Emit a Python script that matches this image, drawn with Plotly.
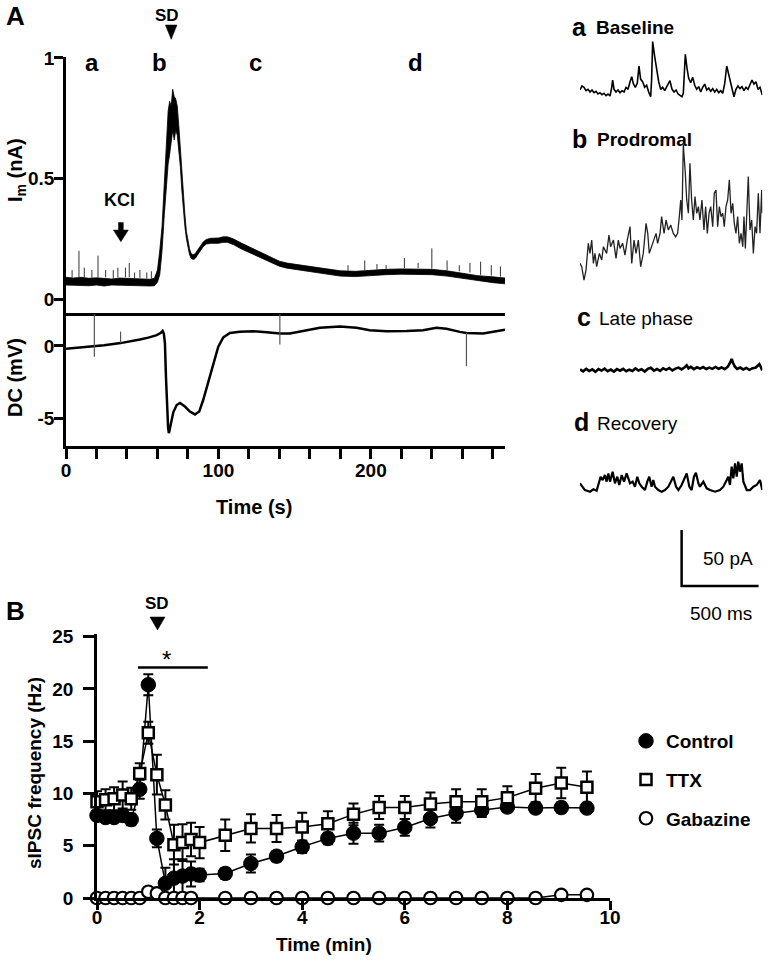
import plotly.graph_objects as go

W, H = 768, 961
FONT = "Liberation Sans, Arial, sans-serif"


def px(x):
    return x / W


def py(y):
    return 1 - y / H


# ---------------- Panel A: membrane current (nA), noisy-trace envelope ----------------
im_t = [0, 5, 10, 15, 20, 25, 30, 35, 40, 45, 50, 55, 58,
        60, 61.5, 63, 64.5, 66, 67, 68, 69, 70, 71, 72, 73, 74, 75, 76, 77, 78, 79, 80, 81, 82, 83, 84, 85, 86,
        88, 90, 92, 95, 100, 103, 106, 110, 115, 120, 125, 130, 135, 140, 145, 150,
        160, 170, 180, 190, 200, 210, 220, 230, 240, 250, 260, 270, 280, 288]
im_lo = [.058, .057, .058, .055, .058, .054, .058, .057, .055, .054, .054, .054, .055,
         .07, .1, .2, .35, .5, .56, .6, .65, .7, .66, .7, .68, .62, .55, .45, .37, .3, .25, .21, .185, .17, .165, .165, .17, .18,
         .197, .217, .228, .231, .231, .235, .235, .225, .208, .193, .178, .163, .148, .136, .128, .123,
         .113, .103, .095, .093, .098, .101, .103, .103, .101, .095, .085, .075, .068, .063]
im_hi = [.09, .087, .09, .086, .088, .086, .083, .087, .086, .082, .084, .082, .086,
         .12, .2, .3, .48, .66, .78, .82, .80, .87, .84, .83, .8, .72, .62, .52, .42, .35, .28, .24, .21, .19, .185, .185, .19, .2,
         .218, .237, .247, .252, .253, .258, .258, .249, .232, .217, .2, .185, .169, .157, .149, .144,
         .135, .125, .117, .115, .12, .123, .125, .125, .123, .117, .107, .097, .092, .087]
im_spk_t = [4, 8.5, 12, 17, 21, 26, 31, 34, 39, 41.5, 45, 48.5, 53, 56,
            185, 196, 204, 210, 222, 231, 240, 250, 258, 265, 272, 279, 285]
im_spk_base = [0.088, 0.09, 0.09, 0.088, 0.09, 0.09, 0.085, 0.09, 0.09, 0.09, 0.085, 0.088, 0.085, 0.085,
               0.117, 0.12, 0.122, 0.125, 0.128, 0.128, 0.126, 0.12, 0.115, 0.11, 0.1, 0.097, 0.093]
im_spk_peak = [0.12, 0.2, 0.13, 0.12, 0.18, 0.12, 0.12, 0.13, 0.13, 0.15, 0.11, 0.12, 0.11, 0.115,
               0.14, 0.16, 0.145, 0.14, 0.17, 0.15, 0.21, 0.16, 0.14, 0.15, 0.155, 0.14, 0.135]
im_ticks = [0, 0.5, 1]
im_ticktext = ["0", "0.5", "1"]

# ---------------- Panel A: DC potential (mV) ----------------
dc_t = [0, 10, 18.6, 25, 35.8, 42, 48.5, 54, 59.5, 62,
        63.4, 64.2, 64.9, 65.6, 66.3, 67.0, 67.5, 68.6, 70.4, 72.6, 74.8,
        78, 81.3, 84.6, 87.4, 90, 93.3, 96.6, 99.9, 103.2, 107.5,
        114, 122.8, 131.6, 140.3, 146.9, 155.6, 166.6, 179.7, 190.6, 199.3,
        210.3, 223.4, 234.3, 243, 249.6, 258.4, 262.7, 273.6, 288]
dc_v = [-0.2, -0.12, -0.05, 0.05, 0.2, 0.3, 0.45, 0.58, 0.75, 0.9,
        1.05, 0.85, 0.2, -2.2, -4.4, -5.7, -6.05, -5.4, -4.6, -4.1, -3.95,
        -4.2, -4.55, -4.75, -4.55, -3.75, -2.45, -1.2, -0.05, 0.6, 0.9,
        0.98, 1.02, 0.95, 0.86, 0.86, 1.02, 1.27, 1.36, 1.27, 1.09,
        1.02, 1.04, 1.09, 1.27, 1.2, 0.98, 0.9, 0.86, 1.13]
dc_art_t = [18.6, 35.8, 140.3, 262.7]
dc_art_hi = [2.22, 1.0, 2.22, 0.9]
dc_art_lo = [-0.75, 0.2, 0.1, -1.4]
dc_ticks = [-5, 0]
dc_ticktext = ["-5", "0"]
time_ticks = [0, 100, 200]
time_minor_step = 20

# ---------------- Panel A insets: sIPSC traces (ms, pA) ----------------
a_ms = [0, 13, 26, 39, 52, 65, 78, 91, 104, 117, 130, 143, 156, 169, 182, 195, 206, 212, 221, 234,
        247, 260, 273, 286, 299, 312, 325, 336, 346, 359, 372, 383, 394, 407, 420, 433, 446, 459, 465, 472,
        485, 498, 511, 524, 537, 550, 563, 576, 584, 598, 611, 624, 637, 650, 662, 671, 684, 695, 706, 719,
        732, 745, 758, 771, 784, 797, 810, 823, 836, 849, 862, 875, 888, 901, 914, 927, 940, 953, 966, 979,
        992, 1000, 1013, 1026, 1039, 1052, 1065, 1078, 1091, 1104, 1117, 1130, 1143, 1156, 1169, 1184]
a_pA = [3.0, 6.6, 5.4, 2.4, 3.6, 1.2, 3.0, 0.6, 1.8, -0.6, 0.6, -1.2, 0, -2.1, -0.6, -2.4, 5.4, 11.9, 3.6, 1.2,
        3.0, 0.6, 2.4, 1.2, 5.4, 3.6, 10.4, 14.9, 8.9, 5.4, 8.9, 24.4, 12.5, 10.4, 5.4, 7.2, 1.2, -3.0, 11.9, 46.2,
        32.8, 19.4, 10.4, 3.6, 5.4, 2.4, 6.0, 8.9, 11.3, 3.6, 1.2, 3.0, -0.6, -1.8, -3.0, 0, 34.9, 22.4, 13.4, 9.5,
        14.3, 7.2, 3.6, 6.0, 1.2, 5.4, 8.3, 3.0, 4.8, 1.8, 4.2, 1.2, 3.6, 0.6, 2.4, 0, 8.9, 24.4, 17.3, 8.9,
        1.5, -3.0, 3.6, 6.6, 4.2, 6.0, 2.4, 5.4, 3.6, 7.4, 11.9, 8.3, 10.4, 3.6, 5.4, -1.5]
b_ms = [0, 11, 26, 39, 54, 65, 76, 87, 97, 108, 126, 141, 152, 173, 188, 199, 217, 234, 249, 260,
        277, 292, 307, 325, 336, 351, 364, 379, 394, 411, 429, 440, 450, 465, 481, 494, 504, 520, 530, 546,
        559, 574, 589, 606, 621, 634, 645, 654, 662, 671, 684, 693, 704, 714, 725, 736, 747, 758, 769, 779,
        792, 805, 816, 827, 838, 849, 862, 872, 883, 894, 905, 916, 927, 937, 948, 959, 970, 981, 992, 1002,
        1013, 1024, 1035, 1046, 1057, 1065, 1074, 1083, 1093, 1104, 1115, 1126, 1137, 1147, 1158, 1169, 1180, 1184]
b_pA = [3.0, 0, -11.9, -3.0, 20.9, 11.9, 23.8, 3.0, 11.9, 0, 11.9, 6.0, 17.9, 11.9, 28.3, 17.9, 23.8, 7.5, 23.8, 16.4,
        20.9, 10.4, 23.8, 35.8, 3.0, 23.8, 11.9, 23.8, 0, 11.9, 38.7, 29.8, 11.9, 17.9, 23.8, 29.8, 20.9, 29.8, 44.7, 29.8,
        41.7, 32.8, 37.3, 29.8, 26.8, 29.8, 44.7, 59.6, 41.7, 108.8, 83.4, 59.6, 47.7, 92.4, 59.6, 41.7, 62.6, 47.7, 53.6, 41.7,
        59.6, 32.8, 53.6, 29.8, 47.7, 53.6, 35.8, 65.6, 68.5, 35.8, 53.6, 44.7, 47.7, 35.8, 53.6, 59.6, 77.5, 47.7, 56.6, 38.7,
        29.8, 44.7, 20.9, 29.8, 17.9, 44.7, 16.4, 50.7, 80.5, 32.8, 41.7, 11.9, 35.8, 29.8, 65.6, 29.8, 68.5, 47.7]
c_ms = [0, 20, 40, 60, 80, 100, 120, 140, 160, 180, 200, 220, 240, 260, 280, 300, 320, 340, 360, 380,
        400, 420, 440, 460, 480, 500, 520, 540, 560, 580, 600, 620, 640, 660, 680, 693, 705, 720,
        740, 760, 780, 800, 820, 840, 860, 880, 900, 920, 940, 960, 975, 985, 995, 1005,
        1020, 1040, 1060, 1080, 1100, 1120, 1140, 1155, 1165, 1175, 1184]
c_pA = [0.5, -1.2, 1.0, -0.8, 0.6, -1.5, 0.9, -0.5, 1.2, -1.0, 0.4, -1.4, 0.8, -0.6, 1.1, -1.1, 0.3, -0.9, 1.4, -0.4,
        0.7, -1.3, 1.0, 2.0, -0.5, 0.9, -0.8, 1.6, 0.2, 1.8, -0.4, 1.3, 2.2, 0.6, 2.5, 4.2, 1.5, 2.8,
        0.8, 2.4, 1.2, 2.6, 0.9, 2.2, 1.0, 2.7, 1.1, 2.3, 0.8, 3.0, 6.5, 9.8, 6.0, 3.2,
        1.0, 2.2, 0.5, 1.8, 0.2, 1.5, 2.0, 3.5, 5.2, 2.5, -0.5]
d_ms = [0, 32, 65, 87, 108, 126, 134, 147, 162, 173, 184, 195, 212, 227, 242, 255, 271, 286, 303, 314,
        325, 342, 357, 372, 385, 401, 422, 437, 450, 465, 476, 487, 509, 530, 552, 574, 595, 606, 624, 639,
        660, 682, 693, 710, 725, 740, 753, 769, 779, 801, 823, 844, 877, 909, 931, 953, 963, 974, 985, 996,
        1007, 1018, 1028, 1039, 1050, 1061, 1083, 1104, 1126, 1147, 1169, 1184]
d_pA = [6.0, 0, -1.5, 0.6, -0.6, 7.5, 11.9, 8.9, 13.4, 7.5, 14.9, 7.5, 16.4, 6.0, 11.9, 4.5, 13.4, 7.5, 14.9, 10.4,
        6.0, 7.5, 3.0, 11.9, 6.0, 3.0, 0, 7.5, 11.9, 3.0, 8.9, 3.0, 0, -1.5, 0, 3.0, 8.9, 11.9, 3.0, 0,
        4.5, 11.9, 14.9, 3.0, 0, 11.9, 15.5, 6.0, 3.0, 7.5, 1.5, 0, -1.5, 0, 3.0, 8.9, 11.9, 4.5, 20.9, 10.4,
        23.8, 11.9, 25.3, 16.4, 23.8, 7.5, 0, 0, 3.0, 4.5, 8.9, 0]
scale_pA = 50
scale_ms = 500

# ---------------- Panel B: sIPSC frequency (Hz) vs time (min) ----------------
b_time = [0, 0.167, 0.333, 0.5, 0.667, 0.833, 1.0, 1.167, 1.333, 1.5, 1.667, 1.833, 2.0,
          2.5, 3.0, 3.5, 4.0, 4.5, 5.0, 5.5, 6.0, 6.5, 7.0, 7.5, 8.0, 8.55, 9.05, 9.55]
control = [7.9, 7.7, 7.7, 7.9, 7.5, 10.4, 20.4, 5.7, 1.4, 1.9, 2.1, 2.3, 2.2,
           2.35, 3.3, 4.0, 4.9, 5.7, 6.2, 6.2, 6.75, 7.6, 8.1, 8.4, 8.7, 8.6, 8.65, 8.6]
control_err = [0.3, 0.3, 0.4, 0.3, 0.55, 0.9, 1.0, 0.85, 1.5, 1.8, 1.6, 1.2, 0.6,
               0.5, 0.85, 0.5, 0.6, 0.55, 1.0, 0.8, 0.8, 0.85, 0.9, 0.65, 0.4, 0.4, 0.5, 0.4]
ttx = [9.2, 9.4, 9.5, 9.85, 9.5, 11.9, 15.8, 11.8, 8.9, 5.1, 5.3, 5.6, 5.3,
       6.0, 6.65, 6.65, 6.8, 7.1, 8.0, 8.65, 8.65, 9.0, 9.2, 9.2, 9.6, 10.5, 11.0, 10.6]
ttx_err = [1.0, 1.0, 1.1, 1.3, 1.05, 1.0, 1.05, 1.9, 1.4, 1.9, 1.75, 1.6, 1.5,
           1.5, 1.35, 1.3, 1.35, 1.2, 1.05, 1.1, 1.1, 1.1, 1.2, 1.2, 1.1, 1.35, 1.45, 1.5]
gabazine = [0, 0, 0, 0, 0, 0, 0.6, 0.45, 0, 0, 0, 0, -0.05,
            0, 0, 0, 0, 0, 0, 0, 0, 0, 0, 0, 0, 0, 0.3, 0.3]
freq_ticks = [0, 5, 10, 15, 20, 25]
min_ticks = [0, 2, 4, 6, 8, 10]
sig_start, sig_end, sig_level = 0.8, 2.16, 22.05

# ======================================================================
fig = go.Figure()


def seg(ts, lo, hi):
    xs, ys = [], []
    for t, u, v in zip(ts, lo, hi):
        xs += [t, t, None]
        ys += [u, v, None]
    return xs, ys


def line_trace(x, y, xa, ya, width, color="black"):
    return go.Scatter(x=x, y=y, mode="lines", xaxis=xa, yaxis=ya,
                      line=dict(color=color, width=width), showlegend=False,
                      hoverinfo="skip", connectgaps=False)


# Im band
fig.add_trace(line_trace(im_t, im_lo, "x", "y", 0.8))
fig.add_trace(go.Scatter(x=im_t, y=im_hi, mode="lines", xaxis="x", yaxis="y",
                         line=dict(color="black", width=0.8), fill="tonexty",
                         fillcolor="black", showlegend=False, hoverinfo="skip"))
sx, sy = seg(im_spk_t, im_spk_base, im_spk_peak)
fig.add_trace(line_trace(sx, sy, "x", "y", 1, "#333"))

# DC trace
fig.add_trace(line_trace(dc_t, dc_v, "x2", "y2", 2.5))
ax_, ay_ = seg(dc_art_t, dc_art_lo, dc_art_hi)
fig.add_trace(line_trace(ax_, ay_, "x2", "y2", 1.2, "#555"))

# insets
fig.add_trace(line_trace(a_ms, a_pA, "x3", "y3", 1.6))
fig.add_trace(line_trace(b_ms, b_pA, "x4", "y4", 1.3, "#222"))
fig.add_trace(line_trace(c_ms, c_pA, "x5", "y5", 2.6))
fig.add_trace(line_trace(d_ms, d_pA, "x6", "y6", 2.2))
# scale bar (in inset d units)
sb_x0, sb_y0 = 660, -85.7
fig.add_trace(line_trace([sb_x0, sb_x0, sb_x0 + scale_ms],
                         [sb_y0 + scale_pA, sb_y0, sb_y0], "x6", "y6", 2.5))

# Panel B lines + error bars
series = [
    ("Control", control, control_err, dict(symbol="circle", size=14.5, color="black",
                                           line=dict(color="black", width=1))),
    ("TTX", ttx, ttx_err, dict(symbol="square", size=11, color="white",
                                line=dict(color="black", width=2.5))),
    ("Gabazine", gabazine, None, dict(symbol="circle", size=12.5, color="white",
                                      line=dict(color="black", width=2.2))),
]
for name, vals, err, mk in series:
    fig.add_trace(go.Scatter(
        x=b_time, y=vals, mode="lines", xaxis="x7", yaxis="y7",
        line=dict(color="black", width=1.5), showlegend=False, hoverinfo="skip",
        error_y=(dict(type="data", array=err, visible=True, color="black",
                      thickness=2, width=5) if err else None),
    ))
for name, vals, err, mk in series:
    fig.add_trace(go.Scatter(
        x=b_time, y=vals, mode="markers", xaxis="x7", yaxis="y7", name=name,
        marker=mk, cliponaxis=False, legendgroup=name,
    ))

# ---------------- layout ----------------
common = dict(showgrid=False, zeroline=False, linecolor="black", tickcolor="black",
              automargin=False)
tfA = dict(family=FONT, size=19, color="black", weight="bold")
tfB = dict(family=FONT, size=19, color="black", weight="bold")
hidden = dict(visible=False, showgrid=False, zeroline=False)
inset_x = dict(domain=[px(580), px(762.3)], range=[0, 1184], **hidden)

fig.update_layout(
    width=W, height=H, margin=dict(l=0, r=0, t=0, b=0, pad=0, autoexpand=False),
    paper_bgcolor="white", plot_bgcolor="white",
    xaxis=dict(domain=[px(66), px(505)], range=[0, 288], anchor="y", showline=True,
               linewidth=2.5, ticks="", showticklabels=False, **common),
    yaxis=dict(domain=[py(313), py(57)], range=[-0.058, 1.004], anchor="x", showline=True,
               linewidth=2.5, ticks="outside", ticklen=9, tickwidth=2.5, ticklabelstandoff=-4,
               tickvals=im_ticks, ticktext=im_ticktext, tickfont=tfA, **common),
    xaxis2=dict(domain=[px(66), px(505)], range=[0, 288], anchor="y2", showline=True,
                linewidth=2.5, ticks="outside", ticklen=10, tickwidth=2.5, ticklabelstandoff=-5,
                tickvals=time_ticks, tickfont=tfA,
                minor=dict(ticks="outside", dtick=time_minor_step, tick0=0, ticklen=10,
                           tickwidth=2.5, tickcolor="black", showgrid=False),
                **common),
    yaxis2=dict(domain=[py(446), py(314)], range=[-6.94, 2.22], anchor="x2", showline=True,
                linewidth=2.5, ticks="outside", ticklen=9, tickwidth=2.5, ticklabelstandoff=-4,
                tickvals=dc_ticks, ticktext=dc_ticktext, tickfont=tfA, **common),
    xaxis3=dict(anchor="y3", **inset_x),
    yaxis3=dict(domain=[py(105), py(35)], range=[-10.4, 52.1], anchor="x3", **hidden),
    xaxis4=dict(anchor="y4", **inset_x),
    yaxis4=dict(domain=[py(285), py(140)], range=[-16.3, 113.1], anchor="x4", **hidden),
    xaxis5=dict(anchor="y5", **inset_x),
    yaxis5=dict(domain=[py(380), py(355)], range=[-8.9, 13.4], anchor="x5", **hidden),
    xaxis6=dict(anchor="y6", **inset_x),
    yaxis6=dict(domain=[py(592), py(455)], range=[-91.1, 31.3], anchor="x6", **hidden),
    xaxis7=dict(domain=[px(97), px(610)], range=[0, 10], anchor="y7", showline=True,
                linewidth=2.5, ticks="outside", ticklen=9, tickwidth=2.5, ticklabelstandoff=-9,
                tickvals=min_ticks, tickfont=tfB, **common),
    yaxis7=dict(domain=[py(898), py(633.5)], range=[0, 25.3], anchor="x7", showline=True,
                linewidth=2.5, ticks="outside", ticklen=11, tickwidth=2.5, ticklabelstandoff=6,
                tickvals=freq_ticks, tickfont=tfB, **common),
    legend=dict(x=px(626), y=py(722), xanchor="left", yanchor="top",
                font=dict(family=FONT, size=19, color="black", weight="bold"),
                bgcolor="rgba(0,0,0,0)", traceorder="grouped", tracegroupgap=11),
)


def ann(text, x, y, size, bold=True, xanchor="center", angle=0, xref="paper", yref="paper"):
    return dict(text=text, x=(px(x) if xref == "paper" else x), y=(py(y) if yref == "paper" else y),
                xref=xref, yref=yref, showarrow=False, xanchor=xanchor, yanchor="middle",
                textangle=angle,
                font=dict(family=FONT, size=size, color="black",
                          weight="bold" if bold else "normal"))


annotations = [
    ann("A", 15, 16, 26),
    ann("SD", 66.4, 15, 17, xref="x"),
    ann("a", 16.8, 63, 24, xref="x"),
    ann("b", 61.6, 63, 24, xref="x"),
    ann("c", 124.4, 63, 24, xref="x"),
    ann("d", 229.5, 63, 24, xref="x"),
    ann("KCl", 35.1, 200, 18, xref="x"),
    ann("I<sub>m</sub> (nA)", 16, 170, 20, angle=-90),
    ann("DC (mV)", 15, 378, 20, angle=-90),
    ann("Time (s)", 254, 507, 20),
    # inset labels
    ann("a", 579, 27, 25), ann("Baseline", 594, 28, 19, xanchor="left"),
    ann("b", 579, 139, 25), ann("Prodromal", 595, 140, 19, xanchor="left"),
    ann("c", 584, 317, 25), ann("Late phase", 597, 318, 19, bold=False, xanchor="left"),
    ann("d", 581, 422, 25), ann("Recovery", 595, 423, 19, bold=False, xanchor="left"),
    ann("50 pA", 728, 558, 19, bold=False),
    ann("500 ms", 721, 613, 19, bold=False),
    # panel B
    ann("B", 15, 611, 26),
    ann("SD", 1.16, 603, 17, xref="x7"),
    ann("*", 1.36, 659, 24, bold=False, xref="x7"),
    ann("sIPSC frequency (Hz)", 34, 773, 19, angle=-90),
    ann("Time (min)", 324, 944, 19),
]
fig.update_layout(annotations=annotations)


def tri(xc, top, tip, half):
    return dict(type="path", xref="paper", yref="paper",
                path=f"M {px(xc - half)},{py(top)} L {px(xc + half)},{py(top)} L {px(xc)},{py(tip)} Z",
                fillcolor="black", line=dict(color="black", width=0.5))


kcl_t = 36.0
shapes = [
    tri(171.2, 25, 39.3, 5.8),
    tri(157.5, 617, 630, 7.5),
    # KCl arrow (data coords of panel A)
    dict(type="path", xref="x", yref="y", fillcolor="black", line=dict(color="black", width=0.5),
         path=(f"M {kcl_t - 1.6},0.317 L {kcl_t + 1.6},0.317 L {kcl_t + 1.6},0.286 "
               f"L {kcl_t + 4.9},0.286 L {kcl_t},0.238 L {kcl_t - 4.9},0.286 L {kcl_t - 1.6},0.286 Z")),
    # significance bar
    dict(type="line", xref="x7", yref="y7", x0=sig_start, x1=sig_end, y0=sig_level, y1=sig_level,
         line=dict(color="black", width=2.5)),
]
fig.update_layout(shapes=shapes)

fig.write_html("out.html", include_plotlyjs=True,
               config={"displayModeBar": False, "responsive": False},
               post_script="document.body.style.margin='0px';document.body.style.padding='0px';")
